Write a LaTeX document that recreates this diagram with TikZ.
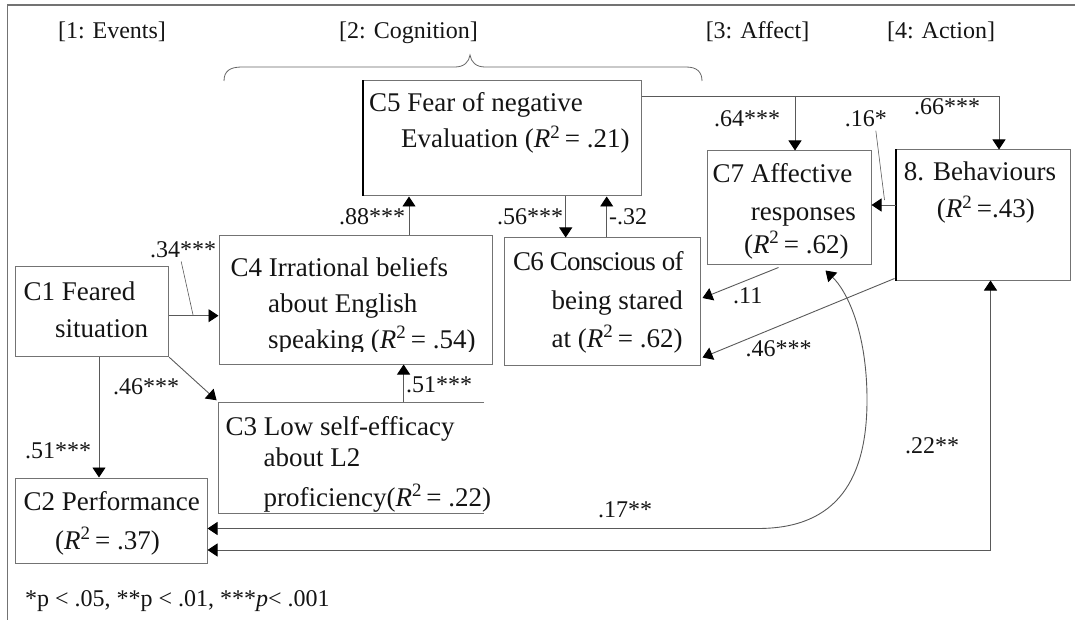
\documentclass[tikz,border=0pt]{standalone}
\usepackage{fontspec}
\setmainfont{Liberation Serif}
\usetikzlibrary{arrows.meta,calc,fit}
\newcommand\rsq{\textit{R}\textsuperscript{2}}
\begin{document}
\begin{tikzpicture}[x=1pt,y=-1pt,
  box/.style={draw=black!55, line width=1pt, inner sep=0pt},
  txt/.style={anchor=base west, inner sep=0pt, font=\fontsize{27}{30}\selectfont, text=black!92},
  lbl/.style={anchor=base west, inner sep=0pt, font=\fontsize{24}{28}\selectfont, text=black!92},
  hdr/.style={anchor=base, inner sep=0pt, font=\fontsize{24}{28}\selectfont, text=black!92},
  conn/.style={draw=black!65, line width=0.9pt},
  arr/.style={conn, -{Triangle[length=10pt,width=13pt,black]}},
  darr/.style={conn, {Triangle[length=10pt,width=13pt,black]}-{Triangle[length=10pt,width=13pt,black]}},
]
\useasboundingbox (0,0) rectangle (1075,620);
% frame
\draw[black!55, line width=1.2pt] (7.5,620) -- (7.5,5) -- (1075,5);

% headers
\node[hdr] (h1) at (112,38.6) {[1: Events]};
\node[hdr] (h2) at (408.5,38.6) {[2: Cognition]};
\node[hdr] (h3) at (757.5,38.6) {[3: Affect]};
\node[hdr] (h4) at (941,38.6) {[4: Action]};

% brace
\draw[black!60, line width=0.8pt] (224,81) .. controls (224,71) and (230,67) .. (242,67) -- (455,67)
  .. controls (464,67) and (469,62) .. (470,55) .. controls (471,62) and (476,67) .. (485,67)
  -- (686,67) .. controls (697,67) and (702,72) .. (702,81);

% boxes
\node[box, fit={(363,81) (641,196)}] (c5) {};
\draw[black, line width=2pt] (c5.north west) -- (c5.south west);
\node[box, fit={(15.5,266.5) (168.7,356.7)}] (c1) {};
\node[box, fit={(219,236) (492.5,364)}] (c4) {};
\node[draw=none, inner sep=0pt, fit={(219,402.5) (484,513.7)}] (c3) {};
\draw[black!55, line width=1pt] (c3.north east) -- (c3.north west) -- (c3.south west) -- (c3.south east);
\node[box, fit={(15.5,478) (207,563)}] (c2) {};
\node[box, fit={(504.5,238) (700,365)}] (c6) {};
\node[box, fit={(707,151) (871,264)}] (c7) {};
\node[box, fit={(896,150) (1070,280)}] (c8) {};
\draw[black, line width=2pt] (c8.north west) -- (c8.south west);

% box texts
\node[txt] (t5a) at (369,112) {C5 Fear of negative};
\node[txt] (t5b) at (401,148) {Evaluation (\rsq\,= .21)};
\node[txt] (t1a) at (23.4,300) {C1 Feared};
\node[txt] (t1b) at (55,337) {situation};
\begin{scope}
\clip (219,236) rectangle (492.5,351.5);
\node[txt] (t4a) at (230.5,276) {C4 Irrational beliefs};
\node[txt] (t4b) at (268,312.7) {about English};
\node[txt] (t4c) at (268,348) {speaking (\rsq\,= .54)};
\end{scope}
\node[txt] (t3a) at (225.5,435) {C3 Low self-efficacy};
\node[txt] (t3b) at (263.4,466.5) {about L2};
\node[txt] (t3c) at (263.4,506) {proficiency(\rsq\,= .22)};
\node[txt] (t2a) at (23.4,510) {C2 Performance};
\node[txt] (t2b) at (55,549) {(\rsq\,= .37)};
\node[txt] (t6a) at (513,270) {\addfontfeature{LetterSpace=-3}C6 Conscious of};
\node[txt] (t6b) at (551.5,309.7) {being stared};
\node[txt] (t6c) at (551.5,347) {at (\rsq\,= .62)};
\node[txt] (t7a) at (712.5,182.5) {C7 Affective};
\node[txt] (t7b) at (750.7,220.7) {responses};
\node[txt] (t7c) at (743.8,253) {(\rsq\,= .62)};
\node[txt] (t8a) at (903.6,180.7) {8. Behaviours};
\node[txt] (t8b) at (936.7,218) {(\rsq\,=.43)};

% helper coordinates
\coordinate (y1) at (0,315.7);
\coordinate (xb) at (99,0);
\coordinate (xc) at (403.6,0);
\coordinate (xa) at (409,0);
\coordinate (xd) at (565.7,0);
\coordinate (xe) at (606.7,0);
\coordinate (yt) at (0,96);
\coordinate (x7) at (795,0);
\coordinate (x8) at (999,0);
\coordinate (y87) at (0,205);
\coordinate (y17) at (0,528.5);
\coordinate (y22) at (0,550);
\coordinate (x22) at (990.5,0);

% connectors
\draw[arr] (c1.east |- y1) -- (c4.west |- y1);
\draw[arr, shorten >=3pt] (c1.south east) -- (c3.north west);
\draw[arr] (c1.south -| xb) -- (c2.north -| xb);
\draw[arr] (c3.north -| xc) -- (c4.south -| xc);
\draw[arr] (c4.north -| xa) -- (c5.south -| xa);
\draw[arr] (c5.south -| xd) -- (c6.north -| xd);
\draw[arr] (c6.north -| xe) -- (c5.south -| xe);
\draw[arr] (c5.east |- yt) -| (c8.north -| x8);
\draw[arr] (x7 |- yt) -- (c7.north -| x7);
\draw[arr] (c8.west |- y87) -- (c7.east |- y87);
\draw[arr] ($(c7.south west)+(72,3)$) -- ($(c6.east)+(2,-3.5)$);
\draw[arr] ($(c8.south west)+(-1,-2)$) -- ($(c6.south east)+(2,-8)$);
\draw[darr] (c2.east |- y17) -- (758,528.5) .. controls (838,528.5) and (867,478) .. (867,400)
  .. controls (867,330) and (846,290) .. ($(c7.south west)+(119,6)$);
\draw[darr] (c8.south -| x22) -- (x22 |- y22) -- (c2.east |- y22);

% coefficient labels
\node[lbl] (l34) at (150,257) {.34***};
\draw[conn, line width=0.6pt] ($(l34.south)+(-2,4)$) -- ($(c1.east |- y1)+(24,0)$);
\node[lbl] (l46a) at (113,394) {.46***};
\node[lbl] (l51a) at (24.8,458.6) {.51***};
\node[lbl] (l51b) at (406,392) {.51***};
\node[lbl] (l88) at (339,225) {.88***};
\node[lbl] (l56) at (497,225) {.56***};
\node[lbl] (l32) at (609,225) {-.32};
\node[lbl] (l64) at (714,127) {.64***};
\node[lbl] (l66) at (914,115) {.66***};
\node[lbl] (l16) at (844.6,127) {.16*};
\draw[conn, line width=0.6pt] ($(l16.south)+(10,3)$) -- ($(c8.west |- y87)+(-11,-5)$);
\node[lbl] (l11) at (733,303.4) {.11};
\node[lbl] (l46b) at (745.5,356) {.46***};
\node[lbl] (l17) at (597.8,517) {.17**};
\node[lbl] (l22) at (905,453) {.22**};

% footnote
\node[lbl] (fn) at (24.8,606) {*p < .05, **p < .01, ***\textit{p}< .001};
\end{tikzpicture}
\end{document}
